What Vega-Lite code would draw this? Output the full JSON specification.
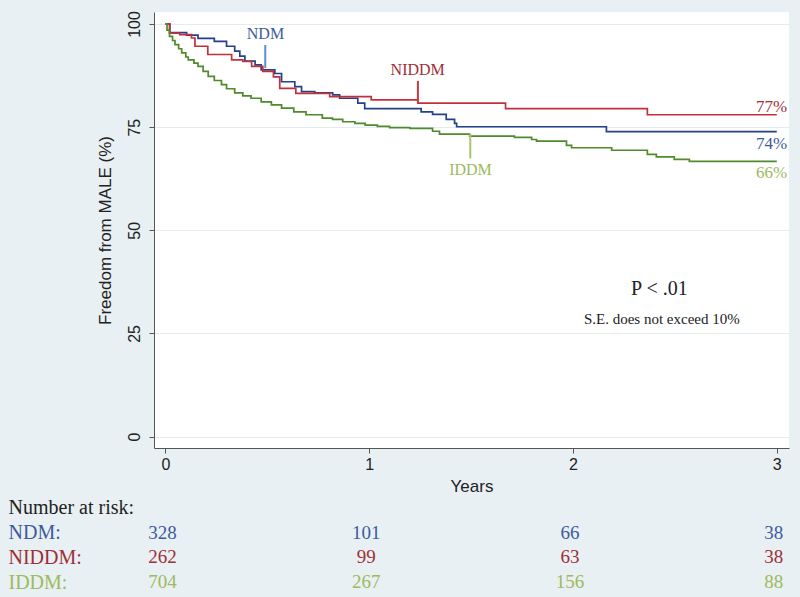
{
  "$schema": "https://vega.github.io/schema/vega-lite/v6.json",
  "background": "#e8f0f3",
  "padding": {"left": 8, "top": 10, "right": 20, "bottom": 10},
  "config": {
    "font": "Liberation Sans",
    "axis": {"labelColor": "#222", "titleColor": "#222", "titleFontWeight": "normal", "domainColor": "#555", "tickColor": "#555"}
  },
  "datasets": {
    "curves": [
      {"series": "NDM", "t": 0, "s": 100}, {"series": "NDM", "t": 0.022, "s": 97.9}, {"series": "NDM", "t": 0.104, "s": 97.3},
      {"series": "NDM", "t": 0.16, "s": 96.5}, {"series": "NDM", "t": 0.24, "s": 95.8}, {"series": "NDM", "t": 0.3, "s": 94.6},
      {"series": "NDM", "t": 0.34, "s": 93.4}, {"series": "NDM", "t": 0.365, "s": 92.2}, {"series": "NDM", "t": 0.39, "s": 91.0},
      {"series": "NDM", "t": 0.44, "s": 90.1}, {"series": "NDM", "t": 0.47, "s": 88.9}, {"series": "NDM", "t": 0.537, "s": 88.0},
      {"series": "NDM", "t": 0.57, "s": 86.0}, {"series": "NDM", "t": 0.635, "s": 84.8}, {"series": "NDM", "t": 0.668, "s": 83.6},
      {"series": "NDM", "t": 0.733, "s": 83.3}, {"series": "NDM", "t": 0.821, "s": 82.8}, {"series": "NDM", "t": 0.855, "s": 82.0},
      {"series": "NDM", "t": 0.944, "s": 80.8}, {"series": "NDM", "t": 0.978, "s": 79.5}, {"series": "NDM", "t": 1.255, "s": 78.7},
      {"series": "NDM", "t": 1.311, "s": 78.1}, {"series": "NDM", "t": 1.378, "s": 76.9}, {"series": "NDM", "t": 1.419, "s": 75.9},
      {"series": "NDM", "t": 1.429, "s": 75.1}, {"series": "NDM", "t": 2.164, "s": 73.9}, {"series": "NDM", "t": 3.0, "s": 73.9},
      {"series": "NIDDM", "t": 0, "s": 100}, {"series": "NIDDM", "t": 0.02, "s": 97.8}, {"series": "NIDDM", "t": 0.07, "s": 97.4},
      {"series": "NIDDM", "t": 0.128, "s": 96.6}, {"series": "NIDDM", "t": 0.145, "s": 94.6}, {"series": "NIDDM", "t": 0.208, "s": 92.6},
      {"series": "NIDDM", "t": 0.325, "s": 91.3}, {"series": "NIDDM", "t": 0.38, "s": 90.9}, {"series": "NIDDM", "t": 0.423, "s": 89.7},
      {"series": "NIDDM", "t": 0.478, "s": 88.5}, {"series": "NIDDM", "t": 0.53, "s": 87.2}, {"series": "NIDDM", "t": 0.561, "s": 84.4},
      {"series": "NIDDM", "t": 0.64, "s": 83.2}, {"series": "NIDDM", "t": 0.806, "s": 82.4}, {"series": "NIDDM", "t": 1.01, "s": 81.6},
      {"series": "NIDDM", "t": 1.239, "s": 80.8}, {"series": "NIDDM", "t": 1.669, "s": 79.5}, {"series": "NIDDM", "t": 2.365, "s": 78.0},
      {"series": "NIDDM", "t": 3.0, "s": 78.0},
      {"series": "IDDM", "t": 0, "s": 100}, {"series": "IDDM", "t": 0.008, "s": 98.5}, {"series": "IDDM", "t": 0.02, "s": 97.0},
      {"series": "IDDM", "t": 0.035, "s": 96.0}, {"series": "IDDM", "t": 0.047, "s": 95.0}, {"series": "IDDM", "t": 0.065, "s": 94.0},
      {"series": "IDDM", "t": 0.08, "s": 93.0}, {"series": "IDDM", "t": 0.1, "s": 92.0}, {"series": "IDDM", "t": 0.112, "s": 91.3},
      {"series": "IDDM", "t": 0.14, "s": 90.5}, {"series": "IDDM", "t": 0.16, "s": 89.7}, {"series": "IDDM", "t": 0.185, "s": 88.5},
      {"series": "IDDM", "t": 0.21, "s": 87.3}, {"series": "IDDM", "t": 0.24, "s": 86.3}, {"series": "IDDM", "t": 0.275, "s": 85.3},
      {"series": "IDDM", "t": 0.3, "s": 84.3}, {"series": "IDDM", "t": 0.34, "s": 83.3}, {"series": "IDDM", "t": 0.38, "s": 82.6},
      {"series": "IDDM", "t": 0.42, "s": 82.0}, {"series": "IDDM", "t": 0.47, "s": 81.1}, {"series": "IDDM", "t": 0.52, "s": 80.4},
      {"series": "IDDM", "t": 0.57, "s": 79.6}, {"series": "IDDM", "t": 0.63, "s": 78.7}, {"series": "IDDM", "t": 0.69, "s": 78.0},
      {"series": "IDDM", "t": 0.77, "s": 77.2}, {"series": "IDDM", "t": 0.82, "s": 76.9}, {"series": "IDDM", "t": 0.87, "s": 76.3},
      {"series": "IDDM", "t": 0.93, "s": 75.9}, {"series": "IDDM", "t": 0.98, "s": 75.5}, {"series": "IDDM", "t": 1.04, "s": 75.2},
      {"series": "IDDM", "t": 1.1, "s": 74.9}, {"series": "IDDM", "t": 1.2, "s": 74.7}, {"series": "IDDM", "t": 1.311, "s": 74.0},
      {"series": "IDDM", "t": 1.345, "s": 73.3}, {"series": "IDDM", "t": 1.493, "s": 72.8}, {"series": "IDDM", "t": 1.713, "s": 72.5},
      {"series": "IDDM", "t": 1.797, "s": 72.0}, {"series": "IDDM", "t": 1.821, "s": 71.6}, {"series": "IDDM", "t": 1.968, "s": 70.6},
      {"series": "IDDM", "t": 1.993, "s": 70.0}, {"series": "IDDM", "t": 2.19, "s": 69.4}, {"series": "IDDM", "t": 2.365, "s": 68.4},
      {"series": "IDDM", "t": 2.409, "s": 67.8}, {"series": "IDDM", "t": 2.497, "s": 67.2}, {"series": "IDDM", "t": 2.571, "s": 66.7},
      {"series": "IDDM", "t": 3.0, "s": 66.7}
    ],
    "pointers": [
      {"series": "NDM", "t": 0.49, "top": 94.9, "bottom": 89.3},
      {"series": "NIDDM", "t": 1.239, "top": 86.2, "bottom": 80.8},
      {"series": "IDDM", "t": 1.496, "top": 73.4, "bottom": 67.4}
    ],
    "names": [
      {"series": "NDM", "t": 0.491, "s": 97.6, "label": "NDM"},
      {"series": "NIDDM", "t": 1.238, "s": 88.8, "label": "NIDDM"},
      {"series": "IDDM", "t": 1.497, "s": 64.6, "label": "IDDM"}
    ],
    "ends": [
      {"series": "NIDDM", "t": 2.975, "s": 79.9, "label": "77%"},
      {"series": "NDM", "t": 2.975, "s": 71.0, "label": "74%"},
      {"series": "IDDM", "t": 2.975, "s": 63.9, "label": "66%"}
    ],
    "risk": [
      {"series": "NDM", "t": 0, "n": 328}, {"series": "NDM", "t": 1, "n": 101}, {"series": "NDM", "t": 2, "n": 66}, {"series": "NDM", "t": 3, "n": 38},
      {"series": "NIDDM", "t": 0, "n": 262}, {"series": "NIDDM", "t": 1, "n": 99}, {"series": "NIDDM", "t": 2, "n": 63}, {"series": "NIDDM", "t": 3, "n": 38},
      {"series": "IDDM", "t": 0, "n": 704}, {"series": "IDDM", "t": 1, "n": 267}, {"series": "IDDM", "t": 2, "n": 156}, {"series": "IDDM", "t": 3, "n": 88}
    ]
  },
  "vconcat": [
    {
      "width": 635,
      "height": 436,
      "view": {"fill": "white", "stroke": null},
      "layer": [
        {
          "data": {"name": "curves"},
          "mark": {"type": "line", "interpolate": "step-after", "strokeWidth": 1.7},
          "encoding": {
            "x": {
              "field": "t", "type": "quantitative",
              "scale": {"domain": [-0.056, 3.06], "nice": false, "zero": false},
              "axis": {"values": [0, 1, 2, 3], "format": "d", "title": "Years", "grid": false, "tickSize": 5, "labelPadding": 3, "labelFontSize": 16, "titleFontSize": 17, "titlePadding": 6, "labelFlush": false}
            },
            "y": {
              "field": "s", "type": "quantitative",
              "scale": {"domain": [-2.75, 102.9], "nice": false, "zero": false},
              "axis": {"values": [0, 25, 50, 75, 100], "title": "Freedom from MALE (%)", "grid": true, "gridColor": "#e2ebf0", "tickSize": 5, "labelAngle": -90, "labelAlign": "center", "labelBaseline": "bottom", "labelPadding": 7, "labelFontSize": 16, "titleFontSize": 17, "titlePadding": 12, "labelFlush": false}
            },
            "color": {
              "field": "series", "type": "nominal",
              "scale": {"domain": ["NDM", "NIDDM", "IDDM"], "range": ["#25418a", "#c2313b", "#4f8a2c"]},
              "legend": null
            }
          }
        },
        {
          "data": {"name": "pointers"},
          "mark": {"type": "rule", "strokeWidth": 2},
          "encoding": {
            "x": {"field": "t", "type": "quantitative"},
            "y": {"field": "top", "type": "quantitative"},
            "y2": {"field": "bottom"},
            "color": {
              "field": "series", "type": "nominal",
              "scale": {"domain": ["NDM", "NIDDM", "IDDM"], "range": ["#5d8fcf", "#c63a44", "#a9c46e"]},
              "legend": null
            }
          }
        },
        {
          "data": {"name": "names"},
          "mark": {"type": "text", "font": "Liberation Serif", "fontSize": 16, "baseline": "middle"},
          "encoding": {
            "x": {"field": "t", "type": "quantitative"},
            "y": {"field": "s", "type": "quantitative"},
            "text": {"field": "label"},
            "color": {
              "field": "series", "type": "nominal",
              "scale": {"domain": ["NDM", "NIDDM", "IDDM"], "range": ["#3d5b9b", "#9e2f38", "#9dba5e"]},
              "legend": null
            }
          }
        },
        {
          "data": {"name": "ends"},
          "mark": {"type": "text", "font": "Liberation Serif", "fontSize": 17, "baseline": "middle"},
          "encoding": {
            "x": {"field": "t", "type": "quantitative"},
            "y": {"field": "s", "type": "quantitative"},
            "text": {"field": "label"},
            "color": {
              "field": "series", "type": "nominal",
              "scale": {"domain": ["NDM", "NIDDM", "IDDM"], "range": ["#3d5b9b", "#9e2f38", "#9dba5e"]},
              "legend": null
            }
          }
        },
        {
          "data": {"values": [{}]},
          "mark": {"type": "text", "text": "P < .01", "font": "Liberation Serif", "fontSize": 20, "color": "#222", "baseline": "middle"},
          "encoding": {"x": {"datum": 2.424, "type": "quantitative"}, "y": {"datum": 35.7, "type": "quantitative"}}
        },
        {
          "data": {"values": [{}]},
          "mark": {"type": "text", "text": "S.E. does not exceed 10%", "font": "Liberation Serif", "fontSize": 15, "color": "#222", "baseline": "middle"},
          "encoding": {"x": {"datum": 2.436, "type": "quantitative"}, "y": {"datum": 28.6, "type": "quantitative"}}
        }
      ],
      "resolve": {"scale": {"color": "independent"}}
    },
    {
      "width": 635,
      "height": 99,
      "view": {"stroke": null},
      "data": {"name": "risk"},
      "mark": {"type": "text", "font": "Liberation Serif", "fontSize": 19, "dx": -3, "baseline": "middle"},
      "encoding": {
        "x": {"field": "t", "type": "quantitative", "scale": {"domain": [-0.056, 3.06], "nice": false, "zero": false}, "axis": null},
        "y": {
          "field": "series", "type": "nominal",
          "scale": {"type": "point", "domain": ["Number at risk:", "NDM", "NIDDM", "IDDM"], "padding": 0.5},
          "axis": {
            "title": null, "domain": false, "ticks": false, "grid": false,
            "labelAlign": "left", "labelBaseline": "middle", "labelPadding": 146,
            "labelFont": "Liberation Serif", "labelFontSize": 20,
            "labelExpr": "datum.value === 'Number at risk:' ? datum.value : datum.value + ':'",
            "labelColor": {"expr": "datum.value === 'NDM' ? '#3d5b9b' : datum.value === 'NIDDM' ? '#9e2f38' : datum.value === 'IDDM' ? '#9dba5e' : '#222222'"}
          }
        },
        "text": {"field": "n", "type": "quantitative"},
        "color": {
          "field": "series", "type": "nominal",
          "scale": {"domain": ["NDM", "NIDDM", "IDDM"], "range": ["#3d5b9b", "#9e2f38", "#9dba5e"]},
          "legend": null
        }
      }
    }
  ],
  "spacing": 47.5,
  "bounds": "flush"
}
